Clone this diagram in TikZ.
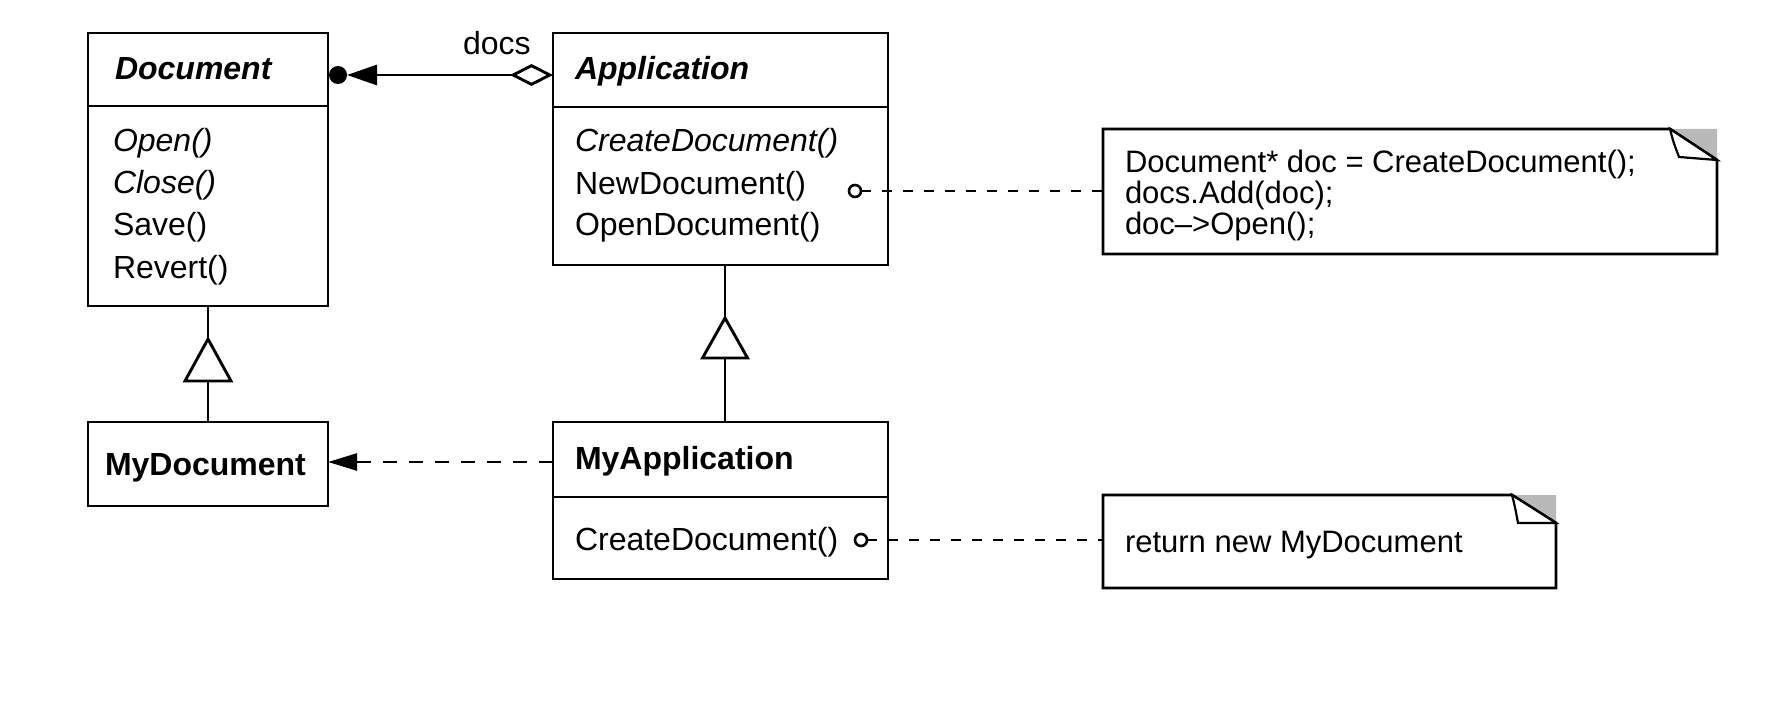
\documentclass[tikz,border=0pt]{standalone}
\usepackage{fontspec}
\setmainfont{Liberation Sans}
\usetikzlibrary{arrows.meta}
\begin{document}
\begin{tikzpicture}[x=1pt,y=-1pt,
  every node/.style={inner sep=0pt, outer sep=0pt},
  txt/.style={font=\fontsize{32}{38}\selectfont, anchor=base west},
  abstitle/.style={txt, font=\fontsize{32}{38}\selectfont\bfseries\itshape},
  contitle/.style={txt, font=\fontsize{32}{38}\selectfont\bfseries},
  absop/.style={txt, font=\fontsize{32}{38}\selectfont\itshape},
  notetxt/.style={font=\fontsize{31}{31}\selectfont, anchor=base west},
  classbox/.style={draw, line width=2.9pt, anchor=north west},
  notearea/.style={anchor=north west},
  divider/.style={line width=2.6pt},
  conn/.style={line width=2.9pt},
  inherit/.style={line width=2.9pt, fill=white, line join=miter},
  dep/.style={line width=2.6pt, dash pattern=on 14pt off 12pt},
  notelink/.style={line width=2.4pt, dash pattern=on 10pt off 11pt},
  noteline/.style={line width=2.9pt, line join=miter},
  anchorpin/.style={circle, draw, line width=2.6pt, minimum size=12pt, fill=white},
]
\fill[white] (0,0) rectangle (1791,714);
\useasboundingbox (0,0) rectangle (1791,714);

% --- Document ---
\node[classbox, minimum width=240pt, minimum height=273pt] (doc) at (88,33) {};
\draw[divider] (doc.west |- 0,106) -- (doc.east |- 0,106);
\node[abstitle] (docT) at (115,80) {Document};
\node[absop] (docM1) at (113,152) {Open()};
\node[absop] (docM2) at (113,194) {Close()};
\node[txt] (docM3) at (113,236) {Save()};
\node[txt] (docM4) at (113,278) {Revert()};

% --- Application ---
\node[classbox, minimum width=335pt, minimum height=232pt] (app) at (553,33) {};
\draw[divider] (app.west |- 0,107) -- (app.east |- 0,107);
\node[abstitle] (appT) at (575,80) {Application};
\node[absop] (appM1) at (575,152) {CreateDocument()};
\node[txt] (appM2) at (575,195) {NewDocument()};
\node[txt] (appM3) at (575,236) {OpenDocument()};

% --- MyDocument ---
\node[classbox, minimum width=240pt, minimum height=84pt] (mydoc) at (88,422) {};
\node[contitle] (mydocT) at (105,475) {MyDocument};

% --- MyApplication ---
\node[classbox, minimum width=335pt, minimum height=157pt] (myapp) at (553,422) {};
\draw[divider] (myapp.west |- 0,497) -- (myapp.east |- 0,497);
\node[contitle] (myappT) at (575,469) {MyApplication};
\node[txt] (myappM1) at (575,550) {CreateDocument()};

% --- aggregation: Application holds docs ---
\node[circle, fill, minimum size=18pt, anchor=west] (dot) at (329,75) {};
\draw[conn, {Diamond[open, length=43pt 0 0, width=22pt 0 0]}-{Triangle[length=30pt 0 0, width=20pt 0 0]}] (app.west |- dot) -- (dot.east);
\node[txt] (docs) at (463,55) {docs};

% --- inheritance ---
\coordinate (g1) at (208,339);
\coordinate (g1b) at (208,381);
\draw[conn] (doc.south -| g1) -- (g1);
\draw[inherit] (g1) -- ++(-23,42) -- ++(46,0) -- cycle;
\draw[conn] (g1b) -- (mydoc.north -| g1b);

\coordinate (g2) at (725,318);
\coordinate (g2b) at (725,358);
\draw[conn] (app.south -| g2) -- (g2);
\draw[inherit] (g2) -- ++(-22.5,40) -- ++(45,0) -- cycle;
\draw[conn] (g2b) -- (myapp.north -| g2b);

% --- dependency: MyApplication creates MyDocument ---
\draw[dep, -{Triangle[length=29pt 0 0, width=17pt 0 0]}] (myapp.west |- 0,462) -- (mydoc.east |- 0,462);

% --- note 1 ---
\node[notearea, minimum width=614pt, minimum height=125pt] (n1) at (1103,129) {};
\fill[gray!55] ([xshift=-47pt]n1.north east) -- (n1.north east) -- ([yshift=-31pt]n1.north east) -- cycle;
\draw[noteline] (n1.north west) -- ([xshift=-47pt]n1.north east) -- ([yshift=-31pt]n1.north east) -- (n1.south east) -- (n1.south west) -- cycle;
\draw[noteline, line width=2.2pt, fill=white] ([xshift=-47pt]n1.north east) .. controls ([xshift=-44pt, yshift=-12pt]n1.north east) .. ([xshift=-38pt, yshift=-28pt]n1.north east) -- ([yshift=-31pt]n1.north east) -- cycle;
\node[notetxt] (n1a) at (1125,173) {Document* doc = CreateDocument();};
\node[notetxt] (n1b) at (1125,204) {docs.Add(doc);};
\node[notetxt] (n1c) at (1125,235) {doc\textendash>Open();};

\node[anchorpin] (c1) at (855,191) {};
\draw[notelink] (c1.east) -- (n1.west |- c1);

% --- note 2 ---
\node[notearea, minimum width=453pt, minimum height=93pt] (n2) at (1103,495) {};
\fill[gray!55] ([xshift=-44pt]n2.north east) -- (n2.north east) -- ([yshift=-28pt]n2.north east) -- cycle;
\draw[noteline] (n2.north west) -- ([xshift=-44pt]n2.north east) -- ([yshift=-28pt]n2.north east) -- (n2.south east) -- (n2.south west) -- cycle;
\draw[noteline, line width=2.2pt, fill=white] ([xshift=-44pt]n2.north east) .. controls ([xshift=-41pt, yshift=-12pt]n2.north east) .. ([xshift=-38pt, yshift=-28pt]n2.north east) -- ([yshift=-28pt]n2.north east) -- cycle;
\node[notetxt] (n2a) at (1125,552) {return new MyDocument};

\node[anchorpin] (c2) at (861,540) {};
\draw[notelink] (c2.east) -- (n2.west |- c2);
\end{tikzpicture}
\end{document}
